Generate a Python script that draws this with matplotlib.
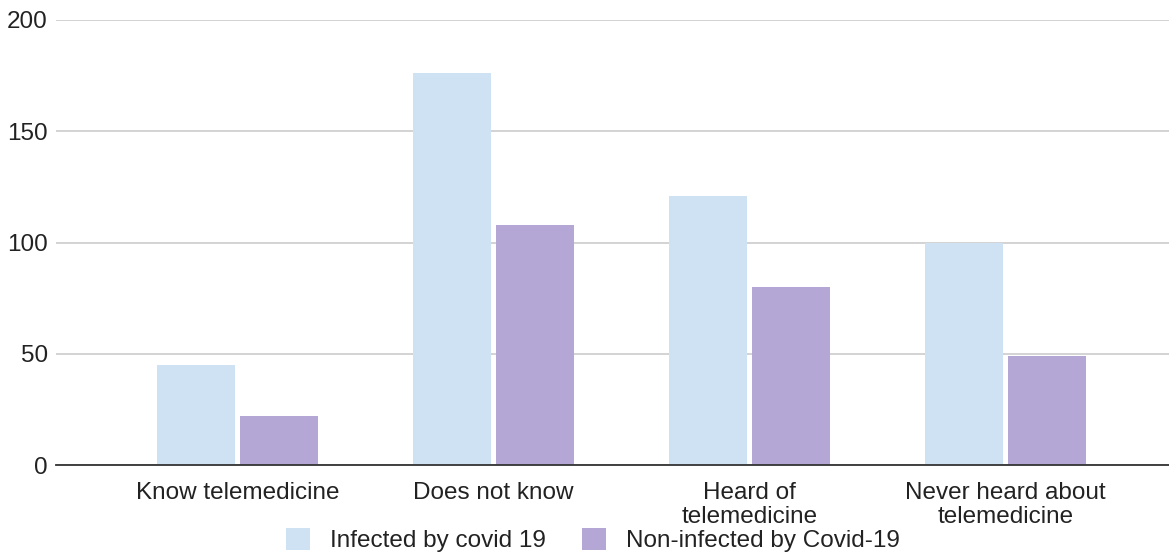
import matplotlib.pyplot as plt
import numpy as np

plt.rcParams['font.family'] = ['Liberation Sans', 'DejaVu Sans']

categories = ["Know telemedicine", "Does not know", "Heard of\ntelemedicine",
              "Never heard about\ntelemedicine"]
infected = [45, 176, 121, 100]
non_infected = [22, 108, 80, 49]
series_names = ["Infected by covid 19", "Non-infected by Covid-19"]
yticks = [0, 50, 100, 150, 200]

W, H = 1169, 552
fig = plt.figure(figsize=(W / 100, H / 100), dpi=100)
ax = fig.add_axes([56 / W, 1 - 465 / H, (W - 56) / W, (465 - 20) / H])

x = np.arange(len(categories))
bw = 0.305
ax.bar(x - 0.163, infected, bw, color="#cfe2f3", label=series_names[0])
ax.bar(x + 0.163, non_infected, bw, color="#b4a7d6", label=series_names[1])

ax.set_xlim(-0.709, 3.639)
ax.set_ylim(0, 200)
ax.set_yticks(yticks)
ax.set_xticks(x)
ax.set_xticklabels(categories, fontsize=17.5, color="#222222", linespacing=1.15)
ax.tick_params(axis="y", labelsize=17.5, length=0, pad=6, labelcolor="#222222")
ax.tick_params(axis="x", length=0, pad=12)

ax.set_axisbelow(True)
ax.grid(axis="y", color="#cccccc", linewidth=1.2)
for s in ["top", "right", "left"]:
    ax.spines[s].set_visible(False)
ax.spines["bottom"].set_color("#333333")
ax.spines["bottom"].set_linewidth(1.3)

fig.legend(loc="center", bbox_to_anchor=(0.507, 1 - 540 / H), ncol=2,
           frameon=False, fontsize=17.5, handlelength=1.0, handleheight=1.0,
           handletextpad=0.8, columnspacing=1.5, borderaxespad=0,
           borderpad=0, labelcolor="#222222")

fig.savefig("out.png", dpi=100)
